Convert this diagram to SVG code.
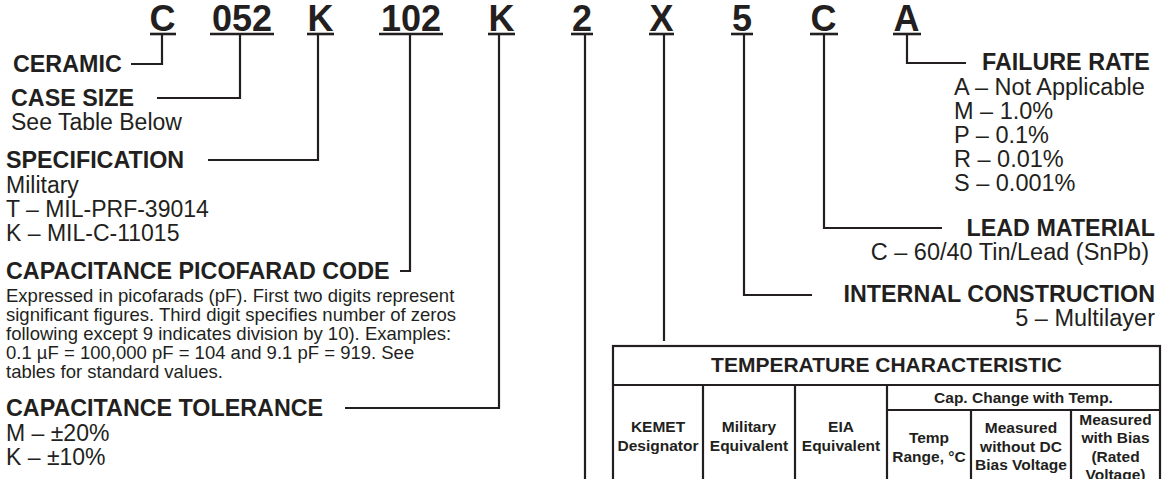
<svg xmlns="http://www.w3.org/2000/svg" width="1166" height="479" viewBox="0 0 1166 479">
<style>
text{font-family:"Liberation Sans",Arial,sans-serif;fill:#231f20}
.code{font-size:36px;font-weight:bold;text-anchor:middle}
.h{font-size:23.3px;font-weight:bold}
.t{font-size:23px}
.r{font-size:23.5px}
.p{font-size:18.5px}
.th{font-size:21px;font-weight:bold;text-anchor:middle}
.tc{font-size:15.5px;font-weight:bold;text-anchor:middle}
.end{text-anchor:end}
.ln{fill:none;stroke:#231f20;stroke-width:2.2}
.ul{stroke:#231f20;stroke-width:2.6}
.tb{fill:none;stroke:#231f20;stroke-width:2.2}
</style>
<rect width="1166" height="479" fill="#fff"/>
<g id="code">
<text class="code" x="162.5" y="31">C</text>
<text class="code" x="242" y="31">052</text>
<text class="code" x="320.5" y="31">K</text>
<text class="code" x="411" y="31">102</text>
<text class="code" x="501.5" y="31">K</text>
<text class="code" x="582" y="31">2</text>
<text class="code" x="661.5" y="31">X</text>
<text class="code" x="742" y="31">5</text>
<text class="code" x="823.5" y="31">C</text>
<text class="code" x="906.5" y="31">A</text>
<line class="ul" x1="150" y1="34" x2="176" y2="34"/>
<line class="ul" x1="210" y1="34" x2="274" y2="34"/>
<line class="ul" x1="307" y1="34" x2="334" y2="34"/>
<line class="ul" x1="379" y1="34" x2="443" y2="34"/>
<line class="ul" x1="488" y1="34" x2="515" y2="34"/>
<line class="ul" x1="571" y1="34" x2="593" y2="34"/>
<line class="ul" x1="649" y1="34" x2="674" y2="34"/>
<line class="ul" x1="731" y1="34" x2="753" y2="34"/>
<line class="ul" x1="810" y1="34" x2="838" y2="34"/>
<line class="ul" x1="893" y1="34" x2="921" y2="34"/>
</g>
<g id="connectors">
<polyline class="ln" points="162,35 162,64 131,64"/>
<polyline class="ln" points="240,35 240,98 157,98"/>
<polyline class="ln" points="318,35 318,160 208,160"/>
<polyline class="ln" points="410,35 410,271 400,271"/>
<polyline class="ln" points="499,35 499,408 345,408"/>
<polyline class="ln" points="585,35 585,479"/>
<polyline class="ln" points="664,35 664,341"/>
<polyline class="ln" points="744,35 744,295 812,295"/>
<polyline class="ln" points="824,35 824,228 942,228"/>
<polyline class="ln" points="907,35 907,63 966,63"/>
</g>
<g id="ceramic"><text class="h" x="13" y="72">CERAMIC</text></g>
<g id="case-size">
<text class="h" x="11" y="106">CASE SIZE</text>
<text class="t" x="11" y="130">See Table Below</text>
</g>
<g id="specification">
<text class="h" x="6" y="168">SPECIFICATION</text>
<text class="t" x="6" y="193">Military</text>
<text class="t" x="6" y="217">T – MIL-PRF-39014</text>
<text class="t" x="6" y="241">K – MIL-C-11015</text>
</g>
<g id="capacitance-code">
<text class="h" x="6" y="279">CAPACITANCE PICOFARAD CODE</text>
<text class="p" x="6" y="302">Expressed in picofarads (pF). First two digits represent</text>
<text class="p" x="6" y="321">significant figures. Third digit specifies number of zeros</text>
<text class="p" x="6" y="340">following except 9 indicates division by 10). Examples:</text>
<text class="p" x="6" y="359">0.1 µF = 100,000 pF = 104 and 9.1 pF = 919. See</text>
<text class="p" x="6" y="378">tables for standard values.</text>
</g>
<g id="tolerance">
<text class="h" x="6" y="416">CAPACITANCE TOLERANCE</text>
<text class="t" x="6" y="441">M – ±20%</text>
<text class="t" x="6" y="465">K – ±10%</text>
</g>
<g id="failure-rate">
<text class="h" x="982" y="70">FAILURE RATE</text>
<text class="r" x="954" y="95">A – Not Applicable</text>
<text class="r" x="954" y="119">M – 1.0%</text>
<text class="r" x="954" y="143">P – 0.1%</text>
<text class="r" x="954" y="167">R – 0.01%</text>
<text class="r" x="954" y="191">S – 0.001%</text>
</g>
<g id="lead-material">
<text class="h end" x="1155" y="236">LEAD MATERIAL</text>
<text class="r end" x="1149" y="260">C – 60/40 Tin/Lead (SnPb)</text>
</g>
<g id="internal-construction">
<text class="h end" x="1155" y="302">INTERNAL CONSTRUCTION</text>
<text class="r end" x="1155" y="326">5 – Multilayer</text>
</g>
<g id="temperature-table">
<rect class="tb" x="613" y="346" width="547" height="140"/>
<line class="tb" x1="613" y1="385" x2="1160" y2="385"/>
<line class="tb" x1="887" y1="410" x2="1160" y2="410"/>
<line class="tb" x1="703" y1="385" x2="703" y2="479"/>
<line class="tb" x1="795" y1="385" x2="795" y2="479"/>
<line class="tb" x1="887" y1="385" x2="887" y2="479"/>
<line class="tb" x1="971" y1="410" x2="971" y2="479"/>
<line class="tb" x1="1071" y1="410" x2="1071" y2="479"/>
<text class="th" x="886.5" y="372">TEMPERATURE CHARACTERISTIC</text>
<text class="tc" x="1023.5" y="403">Cap. Change with Temp.</text>
<text class="tc" x="658" y="432">KEMET</text>
<text class="tc" x="658" y="451">Designator</text>
<text class="tc" x="749" y="432">Military</text>
<text class="tc" x="749" y="451">Equivalent</text>
<text class="tc" x="841" y="432">EIA</text>
<text class="tc" x="841" y="451">Equivalent</text>
<text class="tc" x="929" y="443">Temp</text>
<text class="tc" x="929" y="462">Range, °C</text>
<text class="tc" x="1021" y="433">Measured</text>
<text class="tc" x="1021" y="452">without DC</text>
<text class="tc" x="1021" y="470">Bias Voltage</text>
<text class="tc" x="1115.5" y="425">Measured</text>
<text class="tc" x="1115.5" y="443">with Bias</text>
<text class="tc" x="1115.5" y="462">(Rated</text>
<text class="tc" x="1115.5" y="480">Voltage)</text>
</g>
</svg>
